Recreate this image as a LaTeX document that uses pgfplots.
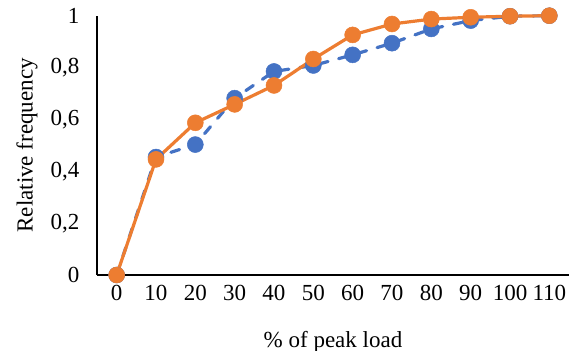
\documentclass[border=0pt]{standalone}
\usepackage{fontspec}
\setmainfont{Liberation Serif}
\usepackage{pgfplots}
\pgfplotsset{compat=1.18}
\definecolor{xlblue}{HTML}{4472C4}
\definecolor{xlorange}{HTML}{ED7D31}
\begin{document}
\begin{tikzpicture}
\path[use as bounding box] (-97pt,-76pt) rectangle (482pt,275pt);
\begin{axis}[
  scale only axis,
  width=472pt, height=259.3pt,
  xmin=-5, xmax=115, ymin=0, ymax=1,
  axis lines=left,
  axis line style={black, line width=1.2pt, -},
  clip=false,
  xtick={0,10,...,110},
  ytick={0,0.2,0.4,0.6,0.8,1},
  yticklabels={0,{0,2},{0,4},{0,6},{0,8},1},
  major tick length=0pt,
  tick style={draw=none},
  /pgf/number format/assume math mode=true,
  ticklabel style={font=\fontsize{23}{26}\selectfont},
  xticklabel style={yshift=-7pt},
  yticklabel style={xshift=-14pt},
  label style={font=\fontsize{23}{26}\selectfont},
  xlabel={\% of peak load},
  ylabel={Relative frequency},
  xlabel style={at={(axis description cs:0.5,0)}, anchor=base, yshift=-72pt},
  ylabel style={at={(axis description cs:0,0.5)}, anchor=south, yshift=56pt},
]
\addplot[xlblue, line width=3.2pt, line cap=round, dash pattern=on 9pt off 11pt, mark=*, mark size=8pt, mark options={solid, fill=xlblue, draw=xlblue, line width=0.5pt}]
coordinates {(0,0) (10,0.455) (20,0.503) (30,0.682) (40,0.785) (50,0.808) (60,0.849) (70,0.894) (80,0.949) (90,0.981) (100,0.998) (110,1)};
\addplot[xlorange, line width=3.2pt, mark=*, mark size=8pt, mark options={solid, fill=xlorange, draw=xlorange, line width=0.5pt}]
coordinates {(0,0) (10,0.446) (20,0.587) (30,0.658) (40,0.731) (50,0.833) (60,0.926) (70,0.968) (80,0.987) (90,0.994) (100,0.998) (110,1)};
\end{axis}
\end{tikzpicture}
\end{document}
